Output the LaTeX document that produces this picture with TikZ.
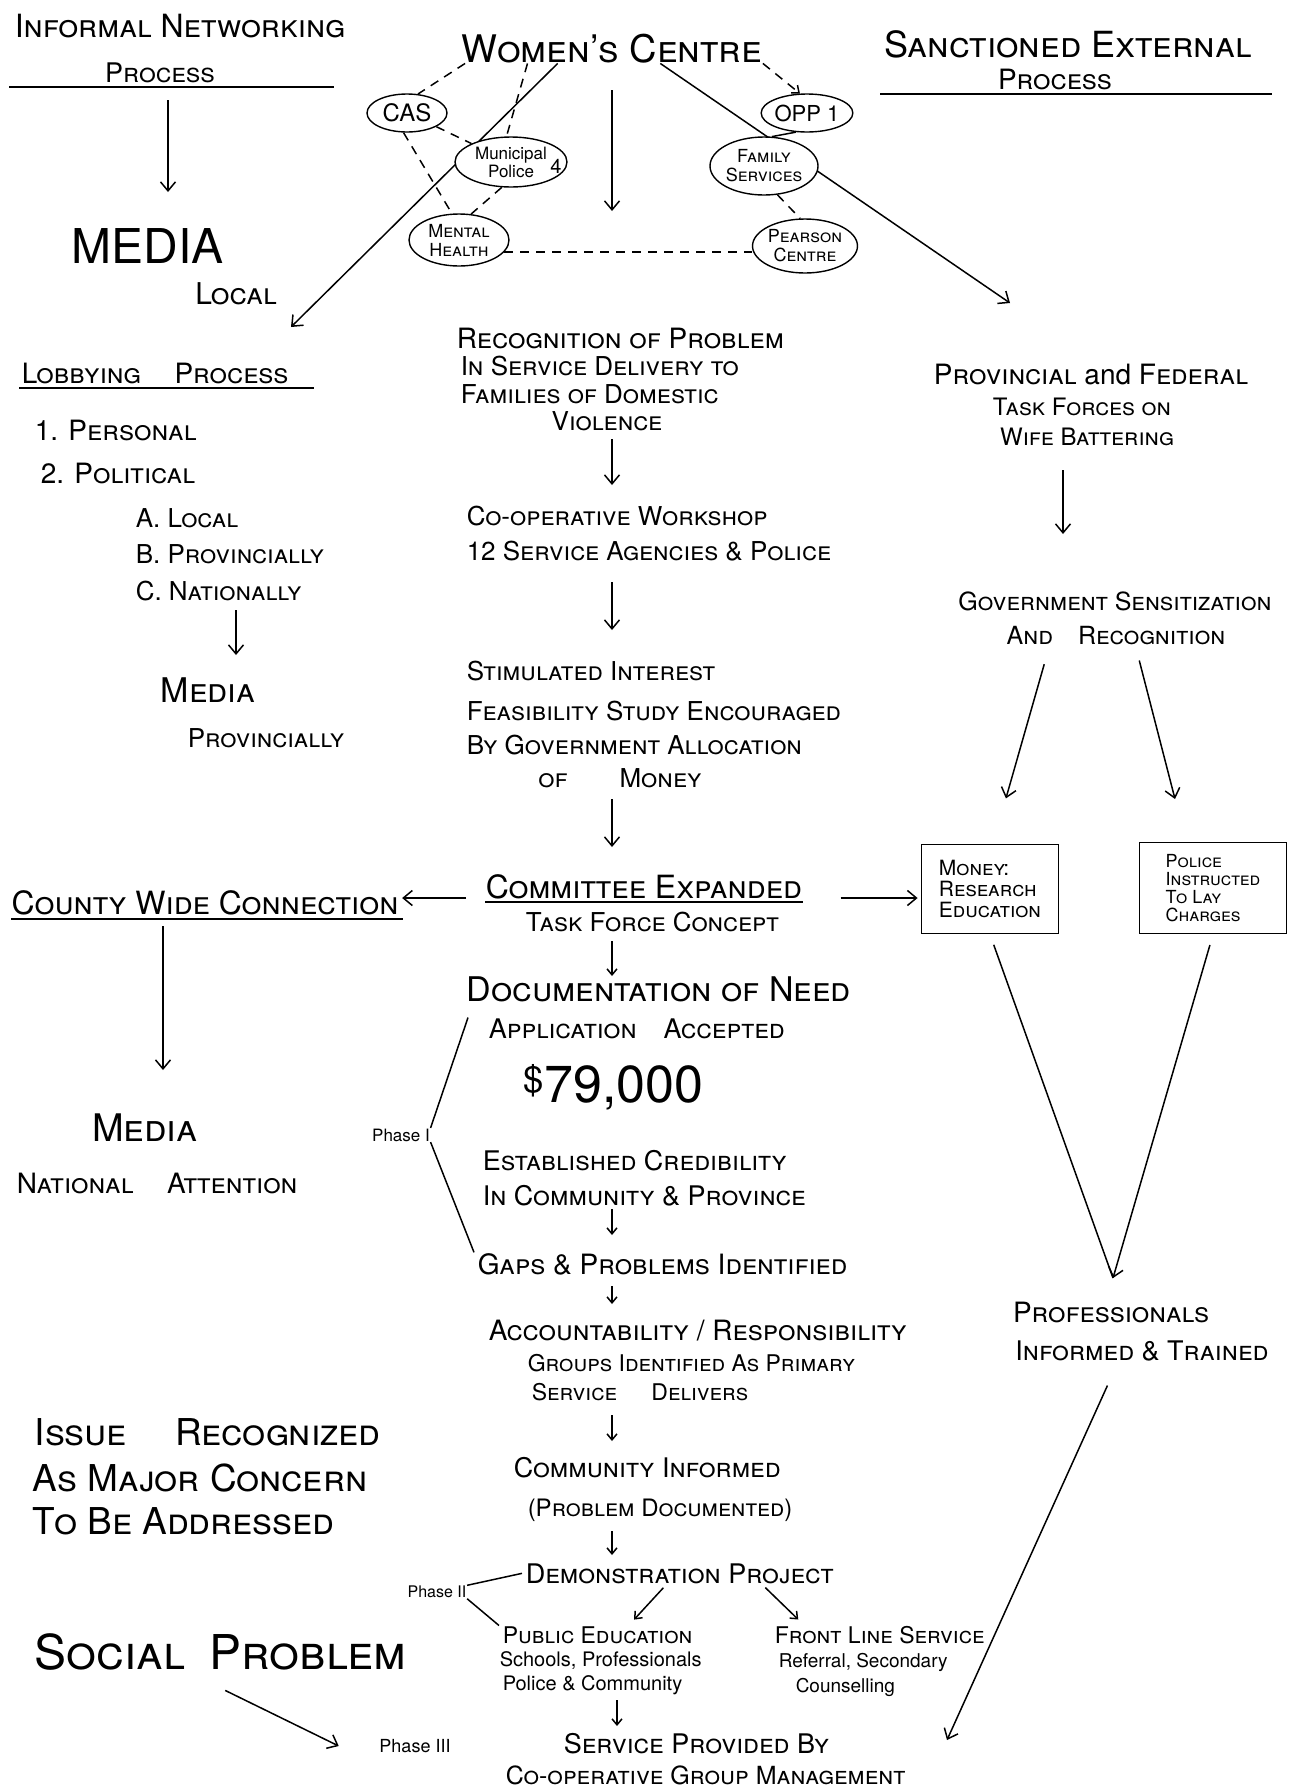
\documentclass[tikz,border=0pt]{standalone}
\usepackage{fontspec}
\setmainfont{TeX Gyre Heros}
\usetikzlibrary{shapes.geometric,arrows.meta,backgrounds,calc}
\begin{document}
\begin{tikzpicture}[x=1pt,y=-1pt,line width=1.5pt,
  tx/.style={inner sep=0pt, font=\fontsize{#1}{#1}\selectfont\scshape},
  tn/.style={inner sep=0pt, font=\fontsize{#1}{#1}\selectfont},
  ell/.style={ellipse, draw, fill=white, inner sep=0pt, align=center, line width=1.4pt},
  arr/.style={-{Straight Barb[length=9pt,width=15pt]}},
  sarr/.style={-{Straight Barb[length=6pt,width=10pt]}},
  dsh/.style={dash pattern=on 9pt off 7pt},
  boxn/.style={draw, rectangle, inner sep=5pt, align=left, line width=1.8pt, font=\fontsize{#1}{#1}\selectfont\scshape}
]
\useasboundingbox (0,0) rectangle (1294,1789);

% ---------- top left ----------
\node[tx=32, anchor=base west] (inf1) at (14,37) {Informal Networking};
\node[tx=27, anchor=base] (inf2) at (160,82) {Process};
\draw (9,87) -- (334,87);
\node[tn=48, anchor=base] (media1) at (148,263) {MEDIA};
\node[tx=30, anchor=base] (local) at (236,304) {Local};
\coordinate (xm) at (168,0);
\draw[arr, shorten <=18pt, shorten >=71pt] (xm |- inf2.base) -- (xm |- media1.base);

% ---------- top centre ----------
\node[tx=38, anchor=base] (wc) at (612,62) {Women's Centre};
\node[ell, tn=24, minimum width=80pt, minimum height=38pt] (cas) at (407,113) {CAS};
\node[ell, font=\fontsize{17}{18}\selectfont, minimum width=112pt, minimum height=50pt] (mp) at (511,162) {Municipal\\Police\hspace{1.2em}};
\node[tn=20] (mp4) at (556,166) {4};
\node[ell, font=\fontsize{18}{19}\selectfont\scshape, minimum width=100pt, minimum height=52pt] (mh) at (459,240) {Mental\\Health};
\node[ell, tn=22, minimum width=84pt, minimum height=38pt] (opp) at (807,113) {OPP 1};
\node[ell, font=\fontsize{18}{19}\selectfont\scshape, minimum width=100pt, minimum height=58pt] (fsv) at (764,166) {Family\\Services};
\node[ell, font=\fontsize{18}{19}\selectfont\scshape, minimum width=92pt, minimum height=54pt] (pc) at (805,246) {Pearson\\Centre};
\coordinate (lobend) at (291,327);
\coordinate (sanend) at (1010,303);
\coordinate (wcdown) at (612,211);
\begin{scope}[on background layer]
\begin{scope}[line width=1.5pt]
\fill[white] (0,0) rectangle (1294,1789);
\draw[dsh] ([xshift=4pt]wc.south west) -- (cas.60);
\draw[dsh] ($(wc.south west)!0.22!(wc.south east)$) -- (mp.100);
\draw[dsh, sarr] (wc.south east) -- (opp.110);
\draw[arr] ($(wc.south west)!0.32!(wc.south east)$) -- (lobend);
\draw[arr] ($(wc.south west)!0.66!(wc.south east)$) -- (sanend);
\draw[dsh] (cas.-25) -- (mp.155);
\draw[dsh] (cas.-100) -- (mh.105);
\draw[dsh] (mp.-110) -- (mh.65);
\draw (opp.-120) -- (fsv.75);
\draw[dsh] (fsv.-65) -- (pc.100);
\draw[dsh] (mh.-15) -- (pc.west |- mh.-15);
\end{scope}
\end{scope}
\draw[arr, shorten <=27pt] (wc.south) -- (wcdown);

% ---------- top right ----------
\node[tx=36, anchor=base] (sanc1) at (1068,57) {Sanctioned External};
\node[tx=28, anchor=base] (sanc2) at (1055,89) {Process};
\draw (880,94) -- (1272,94);

% ---------- left column ----------
\node[tx=28, anchor=base west] (lob) at (21,383) {Lobbying\hspace{1.2em}Process};
\draw (19,388) -- (314,388);
\node[tx=28, anchor=base west] (pers) at (34,440) {1. Personal};
\node[tx=28, anchor=base west] (pol) at (40,483) {2. Political};
\node[tx=26, anchor=base west] (la) at (135,527) {A. Local};
\node[tx=26, anchor=base west] (lb) at (135,563) {B. Provincially};
\node[tx=26, anchor=base west] (lc) at (135,600) {C. Nationally};
\node[tx=34, anchor=base west] (mediap) at (160,702) {Media};
\node[tx=26, anchor=base west] (provp) at (187,747) {Provincially};
\coordinate (xl) at (236,0);
\draw[arr, shorten <=10pt, shorten >=47pt] (xl |- lc.base) -- (xl |- mediap.base);

\node[tx=32, anchor=base west] (county) at (11,914) {County Wide Connection};
\draw (11,919) -- (403,919);
\node[tx=38, anchor=base] (mediaN) at (145,1141) {Media};
\node[tx=28, anchor=base west] (natl) at (16,1193) {National\hspace{1.2em}Attention};
\coordinate (xc) at (163,0);
\draw[arr, shorten <=12pt, shorten >=71pt] (xc |- county.base) -- (xc |- mediaN.base);

\node[tx=37, anchor=base west] (iss1) at (34,1445) {Issue\hspace{1.3em}Recognized};
\node[tx=37, anchor=base west] (iss2) at (32,1491) {As Major Concern};
\node[tx=37, anchor=base west] (iss3) at (32,1534) {To Be Addressed};
\node[tx=48, anchor=base west] (sp) at (34,1669) {Social\hspace{0.5em}Problem};

% ---------- centre column ----------
\coordinate (xa) at (612,0);
\node[tx=28, anchor=base west] (rec1) at (456,348) {Recognition of Problem};
\node[tx=26, anchor=base west] (rec2) at (460,375) {In Service Delivery to};
\node[tx=26, anchor=base west] (rec3) at (460,403) {Families of Domestic};
\node[tx=26, anchor=base] (rec4) at (607,430) {Violence};
\node[tx=26, anchor=base west] (coop1) at (466,525) {Co-operative Workshop};
\node[tx=26, anchor=base west] (coop2) at (466,560) {12 Service Agencies \& Police};
\node[tx=26, anchor=base west] (stim1) at (466,680) {Stimulated Interest};
\node[tx=26, anchor=base west] (stim2) at (466,720) {Feasibility Study Encouraged};
\node[tx=26, anchor=base west] (stim3) at (466,754) {By Government Allocation};
\node[tx=26, anchor=base] (stim4) at (620,787) {of\hspace{2em}Money};
\node[tx=32, anchor=base west] (comm1) at (485,898) {Committee Expanded};
\draw ([yshift=-4pt]comm1.base west) -- ([yshift=-4pt]comm1.base east);
\node[tx=26, anchor=base west] (comm2) at (525,931) {Task Force Concept};
\node[tx=34, anchor=base west] (doc1) at (466,1001) {Documentation of Need};
\node[tx=27, anchor=base west] (doc2) at (488,1038) {Application\hspace{1em}Accepted};
\node[tn=52, anchor=base west] (money) at (523,1102) {\textsuperscript{\$}79,000};
\node[tx=27, anchor=base west] (est1) at (482,1170) {Established Credibility};
\node[tx=27, anchor=base west] (est2) at (482,1205) {In Community \& Province};
\node[tx=28, anchor=base west] (gaps) at (477,1274) {Gaps \& Problems Identified};
\node[tx=28, anchor=base west] (acc1) at (488,1340) {Accountability / Responsibility};
\node[tx=23, anchor=base west] (acc2) at (527,1371) {Groups Identified As Primary};
\node[tx=23, anchor=base west] (acc3) at (531,1400) {Service\hspace{1.5em}Delivers};
\node[tx=27, anchor=base west] (ci1) at (513,1477) {Community Informed};
\node[tx=24, anchor=base west] (ci2) at (527,1516) {(Problem Documented)};
\node[tx=27, anchor=base west] (demo) at (525,1583) {Demonstration Project};
\node[tx=23, anchor=base west] (pub1) at (502,1643) {Public Education};
\node[tn=20, anchor=base west] (pub2) at (499,1666) {Schools, Professionals};
\node[tn=20, anchor=base west] (pub3) at (502,1690) {Police \& Community};
\node[tx=23, anchor=base west] (fl1) at (774,1643) {Front Line Service};
\node[tn=19, anchor=base west] (fl2) at (778,1667) {Referral, Secondary};
\node[tn=19, anchor=base west] (fl3) at (795,1692) {Counselling};
\node[tx=27, anchor=base west] (spb1) at (563,1753) {Service Provided By};
\node[tx=25, anchor=base west] (spb2) at (505,1784) {Co-operative Group Management};

\node[tn=17] (ph1) at (401,1135) {Phase I};
\node[tn=16] (ph2) at (437,1592) {Phase II};
\node[tn=18] (ph3) at (415,1746) {Phase III};

\draw[arr, shorten <=9pt, shorten >=40pt] (xa |- rec4.base) -- (xa |- coop1.base);
\draw[arr, shorten <=22pt, shorten >=50pt] (xa |- coop2.base) -- (xa |- stim1.base);
\draw[arr, shorten <=12pt, shorten >=51pt] (xa |- stim4.base) -- (xa |- comm1.base);
\draw[sarr, shorten <=10pt, shorten >=25pt] (xa |- comm2.base) -- (xa |- doc1.base);
\draw[sarr, shorten <=4pt, shorten >=39pt] (xa |- est2.base) -- (xa |- gaps.base);
\draw[sarr, shorten <=12pt, shorten >=36pt] (xa |- gaps.base) -- (xa |- acc1.base);
\draw[sarr, shorten <=15pt, shorten >=36pt] (xa |- acc3.base) -- (xa |- ci1.base);
\draw[sarr, shorten <=15pt, shorten >=28pt] (xa |- ci2.base) -- (xa |- demo.base);
\coordinate (xp) at (617,0);
\draw[sarr, shorten <=10pt, shorten >=27pt] (xp |- pub3.base) -- (xp |- spb1.base);

\draw[sarr, shorten <=5pt, shorten >=8pt] ([xshift=-13pt]demo.south) -- ([xshift=31pt]pub1.north);
\draw[sarr, shorten <=5pt, shorten >=8pt] ([xshift=82pt]demo.south) -- ([xshift=30pt]fl1.north west);

\draw ([xshift=-20pt]doc2.north west) -- (ph1.north east);
\draw (ph1.south east) -- ([xshift=-3pt]gaps.north west);
\draw ([xshift=-3pt]demo.west) -- (ph2.north east);
\draw (ph2.south east) -- ([xshift=-3pt]pub1.north west);
\draw[arr, shorten <=45pt] ([xshift=-36pt]sp.south) -- ([xshift=-40pt]ph3.west);

% ---------- right column ----------
\node[tx=28, anchor=base] (pf1) at (1091,384) {Provincial \textnormal{and} Federal};
\node[tx=24, anchor=base] (pf2) at (1082,415) {Task Forces on};
\node[tx=24, anchor=base] (pf3) at (1087,445) {Wife Battering};
\node[tx=25, anchor=base] (gs1) at (1115,610) {Government Sensitization};
\node[tx=25, anchor=base] (gs2) at (1116,644) {And\hspace{1em}Recognition};
\coordinate (xr) at (1063,0);
\draw[arr, shorten <=25pt, shorten >=76pt] (xr |- pf3.base) -- (xr |- gs1.base);
\node[boxn=21, minimum width=137pt, minimum height=89pt] (mbox) at (990,889) {Money:\\Research\\Education};
\node[boxn=18, minimum width=147pt, minimum height=91pt] (pbox) at (1213,888) {Police\\Instructed\\To Lay\\Charges};
\draw[arr, shorten <=21pt, shorten >=47pt] ([xshift=-66pt]gs2.base) -- ([xshift=3pt]mbox.north);
\draw[arr, shorten <=17pt, shorten >=44pt] ([xshift=19pt]gs2.base) -- ([xshift=-27pt]pbox.north);

\draw[arr, shorten <=19pt, shorten >=3pt] (comm1.base west) -- (comm1.base west -| county.base east);
\draw[arr, shorten <=38pt, shorten >=3pt] (comm1.base east) -- (comm1.base east -| mbox.west);

\node[tx=28, anchor=base] (prof1) at (1111,1322) {Professionals};
\node[tx=27, anchor=base] (prof2) at (1142,1360) {Informed \& Trained};
\coordinate (conv) at (1113,1278);
\draw[shorten <=11pt] (mbox.south) -- (conv);
\draw[arr, shorten <=11pt] (pbox.south) -- (conv);
\coordinate (svcend) at (947,1740);
\draw[arr, shorten <=28pt] ([xshift=-23pt]prof2.base) -- (svcend);
\end{tikzpicture}
\end{document}
